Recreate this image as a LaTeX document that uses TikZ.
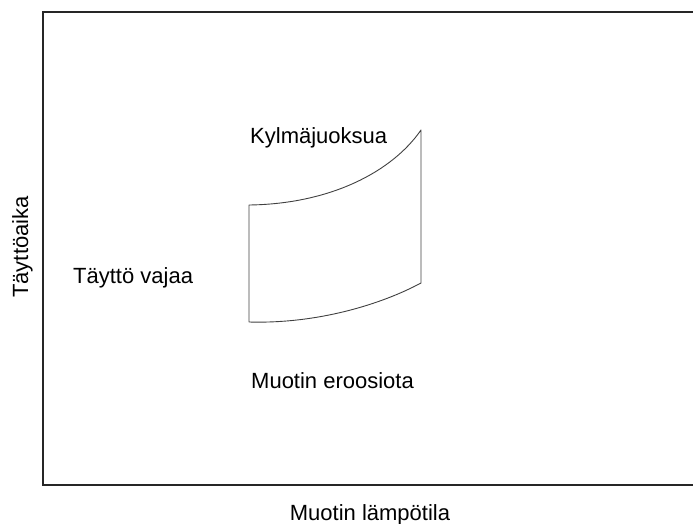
\documentclass[tikz,border=0pt]{standalone}
\usepackage{fontspec}
\setmainfont{Liberation Sans}
\begin{document}
\begin{tikzpicture}[x=1pt, y=-1pt,
  axisline/.style={line width=1.8pt, draw=black!85},
  regionline/.style={line width=0.9pt, draw=black!75},
  label/.style={font=\fontsize{22}{24}\selectfont, text=black, inner sep=0pt}]
  \useasboundingbox (0,0) rectangle (693,524);

  % axes frame (open on the right)
  \coordinate (tr) at (693,12);
  \coordinate (tl) at (43,12);
  \coordinate (bl) at (43,485);
  \coordinate (br) at (693,485);
  \draw[axisline] (tr) -- (tl) -- (bl) -- (br);

  % process window
  \coordinate (a) at (249,205);
  \coordinate (b) at (421,130);
  \coordinate (c) at (421,283);
  \coordinate (d) at (249,322);
  \draw[regionline, line join=round]
    (a) .. controls (330,204) and (392,172) .. (b)
    -- (c)
    .. controls (382,304) and (318,324) .. (d)
    -- cycle;

  % labels
  \node[label, anchor=base west] (cold) at (250,143) {Kylmäjuoksua};
  \node[label, anchor=base west] (short) at (73,283) {Täyttö vajaa};
  \node[label, anchor=base west] (erosion) at (251,388) {Muotin eroosiota};
  \node[label, anchor=base] (xlab) at (370,520) {Muotin lämpötila};
  \node[label, anchor=base, rotate=90] (ylab) at (28,247) {Täyttöaika};
\end{tikzpicture}
\end{document}
